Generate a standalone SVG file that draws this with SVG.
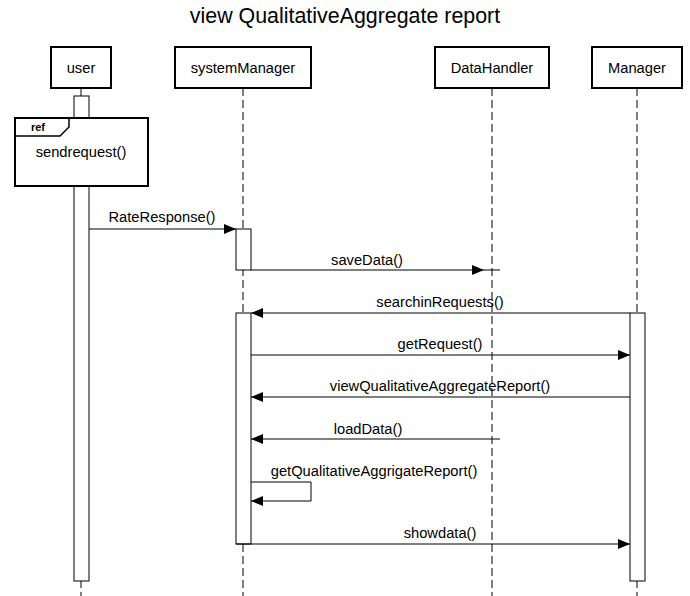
<svg xmlns="http://www.w3.org/2000/svg" width="690" height="596" viewBox="0 0 690 596">
<style>
text{font-family:"Liberation Sans",Arial,sans-serif;font-size:14.7px;fill:#000;text-anchor:middle}
.title{font-size:21.4px}
.head{fill:#fff;stroke:#000;stroke-width:2}
.life{stroke:#000;stroke-width:1;stroke-dasharray:8,4;fill:none}
.act{fill:#fff;stroke:#000;stroke-width:1}
.msg{stroke:#000;stroke-width:1;fill:none}
.ref{fill:#fff;stroke:#000;stroke-width:2}
</style>
<defs>
<marker id="ah" viewBox="0 0 12 10" refX="12" refY="5" markerWidth="12" markerHeight="10" markerUnits="userSpaceOnUse" orient="auto">
<path d="M0,0 L12,5 L0,10 Z" fill="#000"/>
</marker>
</defs>
<rect width="690" height="596" fill="#fff"/>
<text class="title" x="345" y="23">view QualitativeAggregate report</text>
<g id="lifelines">
<line class="life" x1="81" y1="88" x2="81" y2="596"/>
<line class="life" x1="243" y1="88" x2="243" y2="596"/>
<line class="life" x1="492" y1="88" x2="492" y2="596"/>
<line class="life" x1="637" y1="88" x2="637" y2="596"/>
</g>
<g id="user">
<rect class="head" x="51" y="47" width="60" height="41"/>
<text x="81" y="73">user</text>
<rect class="act" x="74" y="96" width="15" height="485"/>
</g>
<g id="systemManager">
<rect class="head" x="175" y="47" width="136" height="41"/>
<text x="243" y="73">systemManager</text>
<rect class="act" x="236" y="229" width="15" height="41"/>
<rect class="act" x="236" y="313" width="15" height="231"/>
</g>
<g id="DataHandler">
<rect class="head" x="435" y="47" width="114" height="41"/>
<text x="492" y="73">DataHandler</text>
</g>
<g id="Manager">
<rect class="head" x="592" y="47" width="90" height="41"/>
<text x="637" y="73">Manager</text>
<rect class="act" x="630" y="313" width="15" height="268"/>
</g>
<g id="ref-sendrequest">
<rect class="ref" x="15" y="118" width="133" height="68"/>
<path d="M15,136 L60,136 L69,127 L69,118" fill="none" stroke="#000" stroke-width="1.5"/>
<text x="38" y="131" style="font-size:11px;font-weight:bold">ref</text>
<text x="81" y="157">sendrequest()</text>
</g>
<g id="connectors">
<line class="msg" x1="89" y1="229" x2="236" y2="229" marker-end="url(#ah)"/>
<text x="162" y="222">RateResponse()</text>
<line class="msg" x1="251" y1="270" x2="484" y2="270" marker-end="url(#ah)"/>
<line class="msg" x1="484" y1="270" x2="500" y2="270"/>
<text x="367" y="265">saveData()</text>
<line class="msg" x1="630" y1="313" x2="251" y2="313" marker-end="url(#ah)"/>
<text x="440" y="307">searchinRequests()</text>
<line class="msg" x1="251" y1="355" x2="630" y2="355" marker-end="url(#ah)"/>
<text x="440" y="349">getRequest()</text>
<line class="msg" x1="630" y1="397" x2="251" y2="397" marker-end="url(#ah)"/>
<text x="440" y="391">viewQualitativeAggregateReport()</text>
<line class="msg" x1="500" y1="439" x2="251" y2="439" marker-end="url(#ah)"/>
<text x="368" y="434">loadData()</text>
<polyline class="msg" points="251,482 311,482 311,501 251,501" marker-end="url(#ah)"/>
<text x="374" y="476">getQualitativeAggrigateReport()</text>
<line class="msg" x1="236" y1="544" x2="630" y2="544" marker-end="url(#ah)"/>
<text x="440" y="538">showdata()</text>
</g>
</svg>
